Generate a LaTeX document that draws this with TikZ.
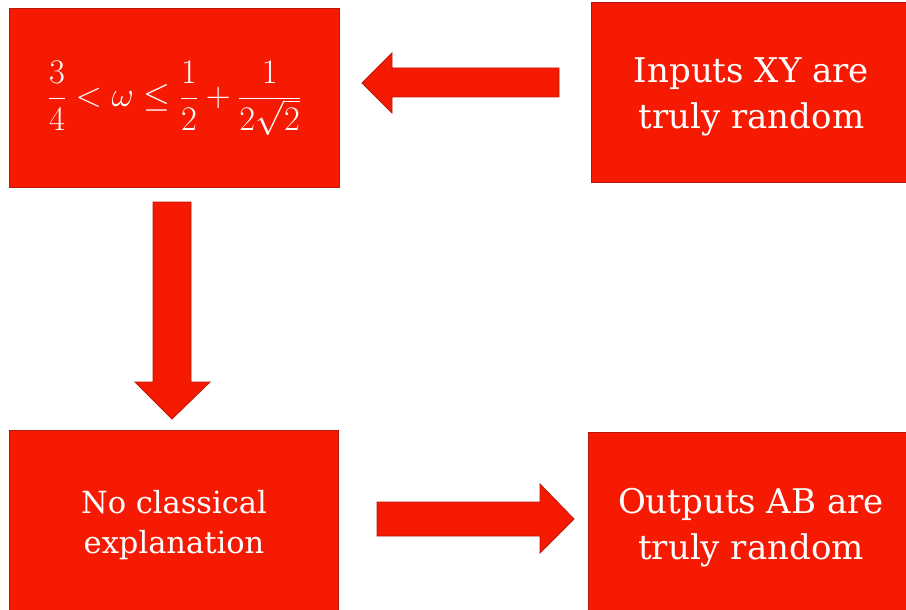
\documentclass[tikz,border=0pt]{standalone}
\usepackage{fix-cm}
\usepackage{fontspec}
\setmainfont{DejaVu Serif}
\definecolor{boxred}{RGB}{246,26,2}
\definecolor{edgered}{RGB}{185,22,10}
\begin{document}
\begin{tikzpicture}[x=1pt,y=-1pt,
  box/.style={draw=edgered, line width=1pt, fill=boxred, text=white,
    anchor=north west, align=center, inner sep=0pt},
  bigtext/.style={font=\fontsize{34}{46}\selectfont},
  smalltext/.style={font=\fontsize{30.5}{40}\selectfont},
  blockarrow/.style={draw=edgered, line width=0.8pt, fill=boxred, line join=miter}]
\useasboundingbox (0,0) rectangle (906,610);
\clip (0,0) rectangle (906,610);

% boxes
\node[box, minimum width=330pt, minimum height=179pt,
      font=\fontsize{34.5}{42}\selectfont] (bound) at (9,8)
  {$\displaystyle \frac{3}{4} < \omega \leq \frac{1}{2} + \frac{1}{2\sqrt{2}}$};
\node[box, minimum width=320pt, minimum height=180pt] (inputs) at (591,2) {};
\node[bigtext, text=white, align=center, inner sep=0pt] (inputstext)
  at ([yshift=-4pt]inputs.center) {Inputs XY are\\ truly random};
\node[box, smalltext, minimum width=329pt, minimum height=190pt] (noclass) at (9,430)
  {No classical\\ explanation};
\node[box, bigtext, minimum width=325pt, minimum height=190pt] (outputs) at (588,432)
  {Outputs AB are\\ truly random};

% block arrow: inputs -> bound (pointing left)
\coordinate (la) at (559,68);
\draw[blockarrow] (la) -- (392,68) -- (392,53) -- (362,83) -- (392,113) -- (392,97) -- (559,97) -- cycle;

% block arrow: bound -> noclass (pointing down)
\coordinate (da) at (153,202);
\draw[blockarrow] (da) -- (191,202) -- (191,382) -- (210,382) -- (172,419) -- (135,382) -- (153,382) -- cycle;

% block arrow: noclass -> outputs (pointing right)
\coordinate (ra) at (377,502);
\draw[blockarrow] (ra) -- (540,502) -- (540,484) -- (574,519) -- (540,553) -- (540,536) -- (377,536) -- cycle;
\end{tikzpicture}
\end{document}
